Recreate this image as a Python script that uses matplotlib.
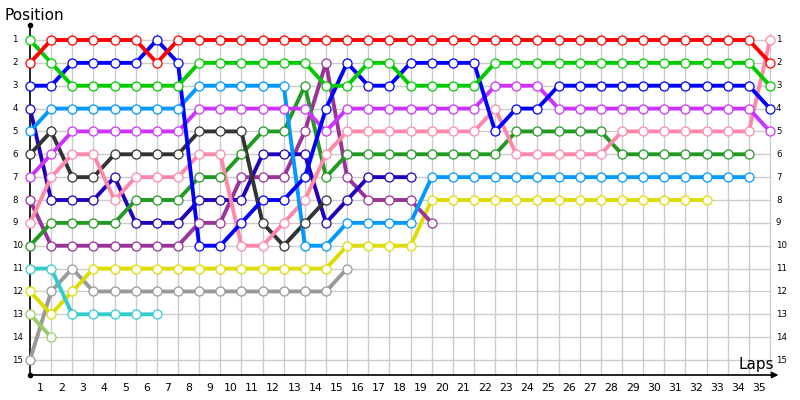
import matplotlib
matplotlib.use('Agg')
import matplotlib.pyplot as plt

# lap chart data: position of each car from the start (lap 0) until it drops out
red = [2, 1, 1, 1, 1, 1, 2, 1, 1, 1,
       1, 1, 1, 1, 1, 1, 1, 1, 1, 1,
       1, 1, 1, 1, 1, 1, 1, 1, 1, 1,
       1, 1, 1, 1, 1, 2]
green = [1, 2, 3, 3, 3, 3, 3, 3, 2, 2,
         2, 2, 2, 2, 3, 3, 2, 2, 3, 3,
         3, 3, 2, 2, 2, 2, 2, 2, 2, 2,
         2, 2, 2, 2, 2, 3]
blue = [3, 3, 2, 2, 2, 2, 1, 2, 10, 10,
        9, 8, 8, 7, 4, 2, 3, 3, 2, 2,
        2, 2, 5, 4, 4, 3, 3, 3, 3, 3,
        3, 3, 3, 3, 3, 4]
light_blue = [5, 4, 4, 4, 4, 4, 4, 4, 3, 3,
              3, 3, 3, 10, 10, 9, 9, 9, 9, 7,
              7, 7, 7, 7, 7, 7, 7, 7, 7, 7,
              7, 7, 7, 7, 7]
violet = [7, 6, 5, 5, 5, 5, 5, 5, 4, 4,
          4, 4, 4, 4, 5, 4, 4, 4, 4, 4,
          4, 4, 3, 3, 3, 4, 4, 4, 4, 4,
          4, 4, 4, 4, 4, 5]
pink = [9, 7, 6, 6, 8, 7, 7, 7, 6, 6,
        10, 10, 9, 8, 6, 5, 5, 5, 5, 5,
        5, 5, 4, 6, 6, 6, 6, 6, 5, 5,
        5, 5, 5, 5, 5, 1]
black = [6, 5, 7, 7, 6, 6, 6, 6, 5, 5,
         5, 9, 10, 9, 8]
dark_green = [10, 9, 9, 9, 9, 8, 8, 8, 7, 7,
              6, 5, 5, 3, 7, 6, 6, 6, 6, 6,
              6, 6, 6, 5, 5, 5, 5, 5, 6, 6,
              6, 6, 6, 6, 6]
indigo = [4, 8, 8, 8, 7, 9, 9, 9, 8, 8,
          8, 6, 6, 6, 9, 8, 7, 7, 7]
purple = [8, 10, 10, 10, 10, 10, 10, 10, 9, 9,
          7, 7, 7, 5, 2, 7, 8, 8, 8, 9]
cyan = [11, 11, 13, 13, 13, 13, 13]
yellow = [12, 13, 12, 11, 11, 11, 11, 11, 11, 11,
          11, 11, 11, 11, 11, 10, 10, 10, 10, 8,
          8, 8, 8, 8, 8, 8, 8, 8, 8, 8,
          8, 8, 8]
gray = [15, 12, 11, 12, 12, 12, 12, 12, 12, 12,
        12, 12, 12, 12, 12, 11]
light_green = [13, 14]

cars = [
    (gray, '#999999'),
    (light_green, '#99cc66'),
    (yellow, '#dddd00'),
    (cyan, '#33cccc'),
    (purple, '#993399'),
    (indigo, '#2200bb'),
    (dark_green, '#229922'),
    (black, '#333333'),
    (pink, '#ff88aa'),
    (violet, '#cc33ff'),
    (light_blue, '#0099ff'),
    (blue, '#0000ff'),
    (green, '#00cc00'),
    (red, '#ff0000'),
]

n_laps = 35
n_pos = 15
lap_labels = [str(i) for i in range(1, n_laps + 1)]
pos_labels = [str(i) for i in range(1, n_pos + 1)]

fig = plt.figure(figsize=(8, 4), dpi=100)
ax = fig.add_axes([0, 0, 1, 1])
# pixel layout: lap 0 at x=30, lap 35 at x=770, position 1 at y=40, 15 at y=360
dx = 740 / 35
dy = 320 / 14
ax.set_xlim(-30 / dx, 770 / dx)
ax.set_ylim(1 + 360 / dy, 1 - 40 / dy)
ax.set_axis_off()

y_top = 1 - 15 / dy
y_grid_top = 1 - 7 / dy
y_axis = 1 + 335 / dy

# grid
for p in range(1, n_pos + 1):
    ax.plot([0, n_laps], [p, p], color='#cccccc', lw=1, zorder=1)
for l in range(1, n_laps + 1):
    ax.plot([l, l], [y_grid_top, y_axis], color='#cccccc', lw=1, zorder=1)

# axes
ax.plot([0, 0], [y_top, y_axis], color='black', lw=1.2, zorder=2)
ax.annotate('', xy=(35.4, y_axis), xytext=(0, y_axis),
            arrowprops=dict(arrowstyle='-|>', color='black', lw=1.2,
                            mutation_scale=9, shrinkA=0, shrinkB=0), zorder=2)
ax.plot([0, 0], [y_top, y_axis], 'o', color='black', ms=3, zorder=3)

# car lines
for pos, col in cars:
    laps = list(range(len(pos)))
    ax.plot(laps, pos, color=col, lw=2.8, zorder=4, solid_joinstyle='round')
for pos, col in cars:
    laps = list(range(len(pos)))
    ax.plot(laps, pos, 'o', mfc='white', mec=col, mew=0.9, ms=6.5, zorder=5)

# labels
for i, t in enumerate(pos_labels):
    ax.text(-17.5 / dx, i + 1, t, fontsize=6.2, ha='left', va='center')
    ax.text(n_laps + 6 / dx, i + 1, t, fontsize=6.2, ha='left', va='center')
for i, t in enumerate(lap_labels):
    ax.text(i + 0.5, 1 + 348 / dy, t, fontsize=7.8, ha='center', va='center')

ax.text(-25 / dx, 1 - 20 / dy, 'Position', fontsize=11, ha='left', va='baseline')
ax.text(n_laps + 4 / dx, 1 + 329 / dy, 'Laps', fontsize=11, ha='right', va='baseline')

fig.savefig('out.png', dpi=100)
